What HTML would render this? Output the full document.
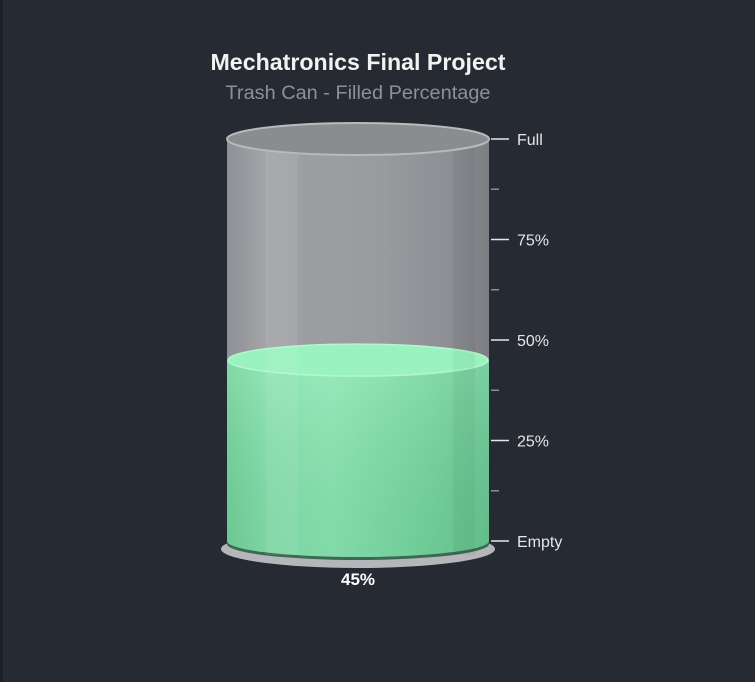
<!DOCTYPE html>
<html><head><meta charset="utf-8"><style>
html,body{margin:0;padding:0;background:#262a33;}
svg{display:block;font-family:"Liberation Sans",sans-serif;}
</style></head><body>
<svg id="chart" width="755" height="682" viewBox="0 0 755 682" xmlns="http://www.w3.org/2000/svg">
<defs>
<linearGradient id="glass" x1="0" x2="1" y1="0" y2="0">
<stop offset="0" stop-color="#8e9095"/><stop offset="0.15" stop-color="#a3a5a9"/><stop offset="0.3" stop-color="#9c9ea2"/><stop offset="0.55" stop-color="#9a9ca0"/><stop offset="0.85" stop-color="#8d8f94"/><stop offset="1" stop-color="#7c7e83"/>
</linearGradient>
<linearGradient id="fill" x1="0" x2="1" y1="0" y2="0">
<stop offset="0" stop-color="#72d49c"/><stop offset="0.15" stop-color="#84e2ad"/><stop offset="0.4" stop-color="#8ae8b3"/><stop offset="0.75" stop-color="#76d9a0"/><stop offset="1" stop-color="#68c993"/>
</linearGradient>
<linearGradient id="fillV" x1="0" x2="0" y1="0" y2="1">
<stop offset="0" stop-color="#ffffff" stop-opacity="0.12"/><stop offset="1" stop-color="#000" stop-opacity="0.06"/>
</linearGradient>
</defs>
<rect x="0" y="0" width="3" height="682" fill="#1d2027"/>
<text x="358" y="70" text-anchor="middle" font-size="23" font-weight="bold" fill="#f2f2f2" textLength="295" lengthAdjust="spacingAndGlyphs">Mechatronics Final Project</text>
<text x="358" y="99" text-anchor="middle" font-size="19" fill="#8d9099" textLength="265" lengthAdjust="spacingAndGlyphs">Trash Can - Filled Percentage</text>
<g id="gauge"></g>
<g id="axis"></g>
</svg>
<script>
const value = 45;
const tickValues = [0, 25, 50, 75, 100];
const tickLabels = ["Empty", "25%", "50%", "75%", "Full"];
const minorTicks = [12.5, 37.5, 62.5, 87.5];
const valueLabel = "45%";

const NS = "http://www.w3.org/2000/svg";
const xL = 227, xR = 489, cx = (xL + xR) / 2, rx = (xR - xL) / 2, ry = 16;
const y0 = 541, y100 = 139;
function yScale(v) { return y0 - (v / 100) * (y0 - y100); }
function mk(tag, attrs, parent) {
  const e = document.createElementNS(NS, tag);
  for (const k in attrs) e.setAttribute(k, attrs[k]);
  parent.appendChild(e); return e;
}
const g = document.getElementById("gauge");
const ax = document.getElementById("axis");

let e = mk("ellipse", {cx: cx, cy: y0 + 8, rx: rx + 6, ry: ry + 3, fill: "#b5b6b9"}, g);


mk("ellipse", {cx: cx, cy: y0 + 3, rx: rx, ry: ry, fill: "#3b6a52"}, g);

e = mk("path", {d: `M${xL},${yScale(100)} L${xL},${y0} A${rx},${ry} 0 0 0 ${xR},${y0} L${xR},${yScale(100)} Z`, fill: "url(#glass)"}, g);



const yv = yScale(value);
e = mk("path", {d: `M${xL},${yv} L${xL},${y0} A${rx},${ry} 0 0 0 ${xR},${y0} L${xR},${yv} Z`, fill: "url(#fill)"}, g);


mk("path", {d: `M${xL},${yv} L${xL},${y0} A${rx},${ry} 0 0 0 ${xR},${y0} L${xR},${yv} Z`, fill: "url(#fillV)"}, g);
e = mk("ellipse", {cx: cx, cy: yv, rx: rx - 1, ry: ry, fill: "#9af2bf", stroke: "#b3f7cf", "stroke-width": 1.5}, g);



mk("rect", {x: 266, y: yScale(100), width: 32, height: y0 - yScale(100) + 14, fill: "#ffffff", opacity: 0.07}, g);
mk("rect", {x: 453, y: yScale(100), width: 22, height: y0 - yScale(100) + 14, fill: "#000", opacity: 0.04}, g);

e = mk("ellipse", {cx: cx, cy: yScale(100), rx: rx, ry: ry, fill: "#8a8c90", stroke: "#b8babd", "stroke-width": 2}, g);



e = mk("text", {x: cx, y: 585, "text-anchor": "middle", "font-size": 17, "font-weight": "bold", fill: "#ffffff"}, g);
e.textContent = valueLabel;



tickValues.forEach((v, i) => {
  const y = yScale(v);
  let t = mk("line", {x1: 491, x2: 509, y1: y, y2: y, stroke: "#e6e6e6", "stroke-width": 1.5}, ax);
  
  
  let l = mk("text", {x: 517, y: y + 6, "font-size": 16, fill: "#e6e6e6"}, ax);
  l.textContent = tickLabels[i];
  
  
});
minorTicks.forEach(v => {
  const y = yScale(v);
  let t = mk("line", {x1: 491, x2: 499, y1: y, y2: y, stroke: "#8a8d94", "stroke-width": 1.5}, ax);
  
  
});
</script>
</body></html>
